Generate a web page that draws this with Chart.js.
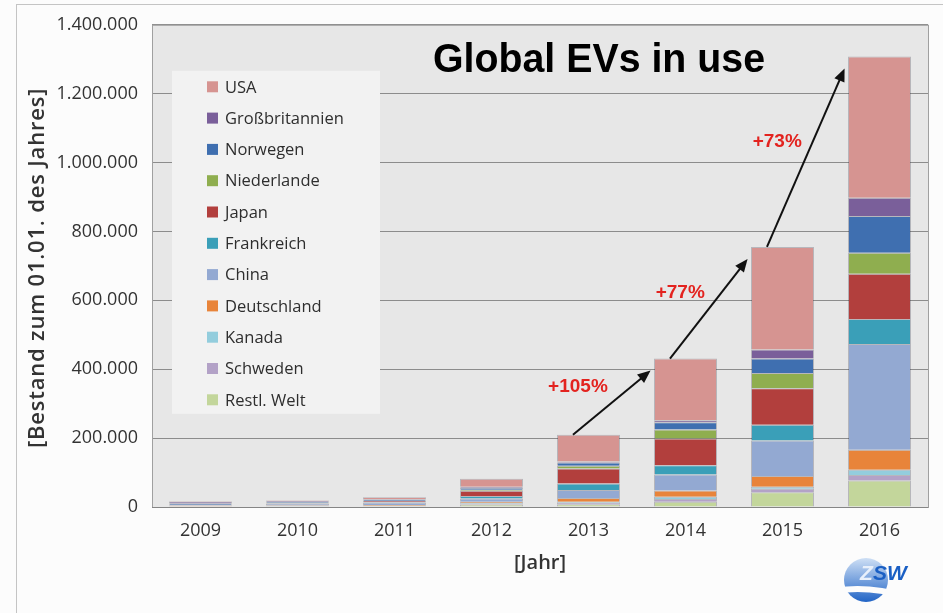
<!DOCTYPE html>
<html>
<head>
<meta charset="utf-8">
<script src="https://cdn.jsdelivr.net/npm/chart.js@4"></script>
<style>
  html, body { margin: 0; padding: 0; background: #fff; }
</style>
</head>
<body>
<canvas id="c" width="943" height="613"></canvas>
<script>
// EV stock at 01.01. of each year, stacked bottom -> top
const years = ['2009', '2010', '2011', '2012', '2013', '2014', '2015', '2016'];
const restlWelt     = [2000, 2000, 2000, 7000, 8000, 15000, 43000, 77000];
const schweden      = [300, 500, 500, 2000, 4000, 8000, 10000, 16000];
const kanada        = [200, 300, 500, 2000, 3000, 7000, 6000, 15000];
const deutschland   = [1500, 1500, 2000, 4000, 11000, 18000, 31000, 58000];
const china         = [1000, 6000, 8000, 10000, 23000, 46000, 103000, 307000];
const frankreich    = [300, 500, 1000, 7000, 19000, 27000, 46000, 73000];
const japan         = [1000, 1500, 4000, 15000, 44000, 78000, 106000, 131000];
const niederlande   = [200, 300, 500, 3000, 8000, 26000, 44000, 61000];
const norwegen      = [4000, 3000, 3000, 6000, 9000, 21000, 42000, 107000];
const grossbritannien = [5000, 1500, 2000, 3000, 3000, 6000, 26000, 53000];
const usa           = [1500, 2000, 5000, 23000, 78000, 179000, 298000, 410000];

// growth arrows from 2013 onwards
const growthFrom = 4;
const growthLabels = ['+105%', '+77%', '+73%'];

const series = [
  ['Restl. Welt', restlWelt, '#c3d69b'],
  ['Schweden', schweden, '#b3a2c7'],
  ['Kanada', kanada, '#93cddd'],
  ['Deutschland', deutschland, '#e8843a'],
  ['China', china, '#93a9d2'],
  ['Frankreich', frankreich, '#3a9fb8'],
  ['Japan', japan, '#b23f3d'],
  ['Niederlande', niederlande, '#8fae4f'],
  ['Norwegen', norwegen, '#3f6fb0'],
  ['Großbritannien', grossbritannien, '#7a5f9a'],
  ['USA', usa, '#d69491']
];

const totals = years.map((_, i) => series.reduce((s, d) => s + d[1][i], 0));
const fmt = v => String(v).replace(/\B(?=(\d{3})+(?!\d))/g, '.');
const FONT = '"Open Sans", "DejaVu Sans", sans-serif';

const decor = {
  id: 'decor',
  beforeDraw(chart) {
    const { ctx, chartArea: a } = chart;
    ctx.save();
    ctx.fillStyle = '#fcfcfc';
    ctx.fillRect(0, 0, chart.width, chart.height);
    ctx.strokeStyle = '#c4c4c4';
    ctx.lineWidth = 1;
    ctx.strokeRect(16.5, 4.5, chart.width, chart.height);
    ctx.fillStyle = '#e7e7e7';
    ctx.fillRect(a.left, a.top, a.right - a.left, a.bottom - a.top);
    ctx.restore();
  },
  afterDatasetsDraw(chart) {
    const { ctx, chartArea: a, scales: { x, y } } = chart;
    ctx.save();
    // plot frame
    ctx.strokeStyle = '#a0a0a0';
    ctx.lineWidth = 1;
    ctx.strokeRect(a.left + 0.5, a.top + 0.5, a.right - a.left, a.bottom - a.top);
    ctx.strokeStyle = '#858585';
    ctx.beginPath();
    ctx.moveTo(a.left, Math.round(a.bottom) + 0.5);
    ctx.lineTo(a.right, Math.round(a.bottom) + 0.5);
    ctx.stroke();

    // legend box
    const lx = a.left + 20, ly = a.top + 46, lw = 208, lh = 343;
    ctx.fillStyle = '#f2f2f2';
    ctx.fillRect(lx, ly, lw, lh);
    ctx.font = '16.5px ' + FONT;
    ctx.textBaseline = 'middle';
    const items = chart.data.datasets.slice().reverse();
    items.forEach((ds, k) => {
      const cy = ly + 16 + k * 31.3;
      ctx.fillStyle = ds.backgroundColor;
      ctx.fillRect(lx + 35, cy - 5.5, 11, 11);
      ctx.fillStyle = '#2e2e2e';
      ctx.textAlign = 'left';
      ctx.fillText(ds.label, lx + 53, cy + 1);
    });

    // growth arrows
    const step = x.getPixelForValue(1) - x.getPixelForValue(0);
    growthLabels.forEach((lbl, k) => {
      const i = growthFrom + k;
      const x0 = x.getPixelForValue(i) - 0.16 * step;
      const y0 = y.getPixelForValue(totals[i]);
      const x1 = x.getPixelForValue(i + 1) - 0.36 * step;
      const y1 = y.getPixelForValue(totals[i + 1]) + 12;
      const ang = Math.atan2(y1 - y0, x1 - x0);
      ctx.strokeStyle = '#111';
      ctx.fillStyle = '#111';
      ctx.lineWidth = 2;
      ctx.beginPath();
      ctx.moveTo(x0, y0);
      ctx.lineTo(x1 - 8 * Math.cos(ang), y1 - 8 * Math.sin(ang));
      ctx.stroke();
      ctx.beginPath();
      ctx.moveTo(x1, y1);
      ctx.lineTo(x1 - 13 * Math.cos(ang) + 5.5 * Math.sin(ang), y1 - 13 * Math.sin(ang) - 5.5 * Math.cos(ang));
      ctx.lineTo(x1 - 13 * Math.cos(ang) - 5.5 * Math.sin(ang), y1 - 13 * Math.sin(ang) + 5.5 * Math.cos(ang));
      ctx.closePath();
      ctx.fill();
      ctx.fillStyle = '#e3231f';
      ctx.font = 'bold 19px "Liberation Sans", Arial, sans-serif';
      ctx.textAlign = 'right';
      ctx.textBaseline = 'middle';
      ctx.fillText(lbl, (x0 + x1) / 2 - 4, (y0 + y1) / 2 - 16);
    });

    // title
    ctx.fillStyle = '#000';
    ctx.font = 'bold 40px "Liberation Sans Narrow", "Liberation Sans", Arial, sans-serif';
    ctx.textAlign = 'center';
    ctx.textBaseline = 'middle';
    ctx.fillText('Global EVs in use', 599, 61, 332);

    // axis titles
    ctx.fillStyle = '#333';
    ctx.font = '600 20px ' + FONT;
    ctx.fillText('[Jahr]', (a.left + a.right) / 2 + 0, 563);
    ctx.translate(38, (a.top + a.bottom) / 2 + 2);
    ctx.rotate(-Math.PI / 2);
    ctx.font = '600 22px ' + FONT;
    ctx.letterSpacing = '0.8px';
    ctx.fillText('[Bestand zum 01.01. des Jahres]', 0, 0);
    ctx.letterSpacing = '0px';
    ctx.setTransform(1, 0, 0, 1, 0, 0);

    // ZSW logo (simplified)
    const cx = 866, cy = 580;
    const g = ctx.createLinearGradient(cx, cy - 24, cx, cy + 24);
    g.addColorStop(0, '#d6e5f7');
    g.addColorStop(1, '#1a5fc4');
    ctx.fillStyle = g;
    ctx.beginPath();
    ctx.arc(cx, cy, 22, 0, Math.PI * 2);
    ctx.fill();
    ctx.fillStyle = '#fcfcfc';
    ctx.beginPath();
    ctx.moveTo(cx - 30, cy + 8);
    ctx.quadraticCurveTo(cx, cy + 2, cx + 44, cy + 14);
    ctx.lineTo(cx + 44, cy + 20);
    ctx.quadraticCurveTo(cx, cy + 8, cx - 30, cy + 14);
    ctx.closePath();
    ctx.fill();
    ctx.font = 'italic bold 21px "Liberation Sans", Arial, sans-serif';
    ctx.textAlign = 'left';
    ctx.fillStyle = '#e8f0fb';
    ctx.fillText('Z', cx - 6, cy - 6);
    ctx.fillStyle = '#1a5fc4';
    ctx.fillText('SW', cx + 7, cy - 6);
    ctx.restore();
  }
};

new Chart(document.getElementById('c').getContext('2d'), {
  type: 'bar',
  data: {
    labels: years,
    datasets: series.map(([label, data, color]) => ({
      label,
      data,
      backgroundColor: color,
      borderColor: 'rgba(40,40,60,0.25)',
      borderWidth: 1,
      barPercentage: 0.65,
      categoryPercentage: 1.0
    }))
  },
  options: {
    responsive: false,
    animation: false,
    layout: { padding: { top: 24, right: 15, left: 0, bottom: 0 } },
    plugins: { legend: { display: false }, tooltip: { enabled: false } },
    scales: {
      x: {
        stacked: true,
        grid: { display: false, drawTicks: false },
        border: { display: false },
        ticks: { color: '#333', font: { size: 18, family: FONT }, padding: 13 },
        afterFit: s => { s.height = 106; }
      },
      y: {
        stacked: true,
        min: 0,
        max: 1400000,
        grid: { color: '#8c8c8c', drawTicks: false },
        border: { display: false },
        ticks: {
          stepSize: 200000,
          color: '#333',
          font: { size: 18, family: FONT },
          padding: 14,
          callback: v => fmt(v)
        },
        afterFit: s => { s.width = 152; }
      }
    }
  },
  plugins: [decor]
});
</script>
</body>
</html>
